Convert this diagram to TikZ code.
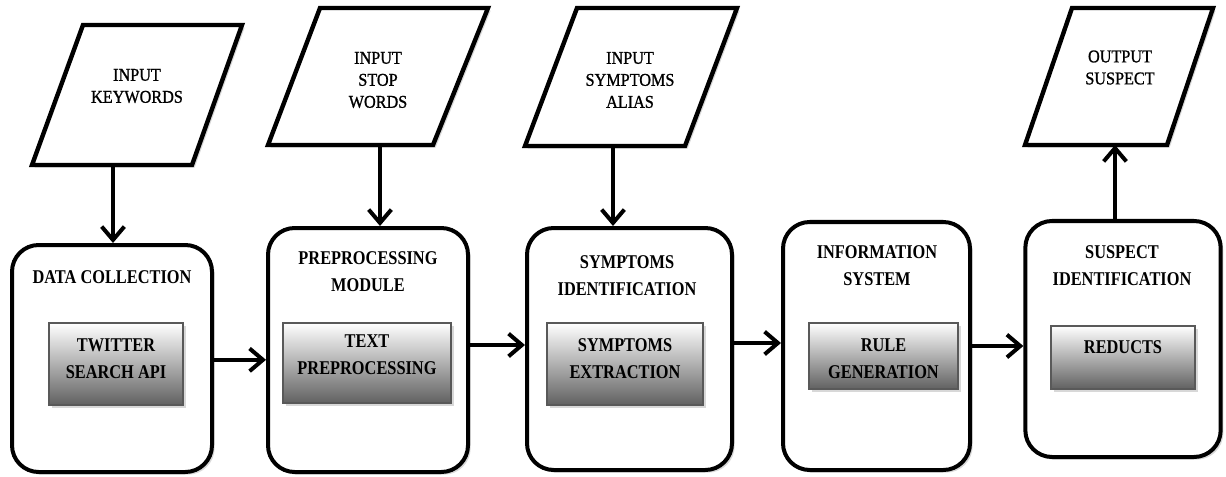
\documentclass[tikz,border=0pt]{standalone}
\usepackage{fontspec}
\setmainfont[FakeStretch=0.84]{Liberation Serif}
\newfontfamily\pfont[FakeStretch=0.9,FakeBold=1]{Liberation Serif}
\usetikzlibrary{arrows.meta,shadows,calc}
\begin{document}
\begin{tikzpicture}[x=0.75pt,y=-0.75pt,
  stage/.style={draw=black,line width=3pt,rounded corners=20pt,fill=white,inner sep=0pt,
    drop shadow={shadow xshift=2pt,shadow yshift=-2pt,fill=black!30}},
  innerbox/.style={draw=black!65,line width=0.8pt,top color=white,bottom color=black!62,inner sep=0pt,
    drop shadow={shadow xshift=2pt,shadow yshift=-2pt,fill=black!30}},
  para/.style={draw=black,line width=3.3pt,fill=white,line join=miter,
    drop shadow={shadow xshift=2pt,shadow yshift=-2pt,fill=black!30}},
  titletext/.style={font=\bfseries\fontsize{14.6pt}{20.25pt}\selectfont,align=center,inner sep=0pt},
  innertext/.style={font=\bfseries\fontsize{14.6pt}{20.25pt}\selectfont,align=center,inner sep=0pt},
  ptext/.style={font=\pfont\fontsize{13.5pt}{16.5pt}\selectfont,align=center,inner sep=0pt},
  arr/.style={line width=3pt,-{Straight Barb[length=10pt,width=17pt]}}
]
\useasboundingbox (0,0) rectangle (1226,477);

% parallelograms (inputs / output)
\draw[para] (83,25) -- (242,25) -- (192,165) -- (32,165) -- cycle;
\node[ptext] (p1) at (137,86) {INPUT\\KEYWORDS};
\coordinate (p1b) at (113,165);

\draw[para] (320,8) -- (488,8) -- (433,145) -- (268,145) -- cycle;
\node[ptext] (p2) at (378,80) {INPUT\\STOP\\WORDS};
\coordinate (p2b) at (380,145);

\draw[para] (577,8) -- (737,8) -- (685,146) -- (525,146) -- cycle;
\node[ptext] (p3) at (630,80) {INPUT\\SYMPTOMS\\ALIAS};
\coordinate (p3b) at (613,146);

\draw[para] (1072,8) -- (1213,8) -- (1167,145) -- (1025,145) -- cycle;
\node[ptext] (p4) at (1120,67.5) {OUTPUT\\SUSPECT};
\coordinate (p4b) at (1115,145);

% stage boxes
\node[stage,minimum width=150pt,minimum height=170.25pt] (b1) at (112,358.5) {};
\node[stage,minimum width=150pt,minimum height=183pt] (b2) at (368,350) {};
\node[stage,minimum width=153.75pt,minimum height=181.5pt] (b3) at (629.5,349) {};
\node[stage,minimum width=140.25pt,minimum height=186pt] (b4) at (876.5,346) {};
\node[stage,minimum width=146.5pt,minimum height=177pt] (b5) at (1123,339) {};

% titles
\node[titletext] (t1) at (112,277) {DATA COLLECTION};
\node[titletext] (t2) at (368,272) {PREPROCESSING\\MODULE};
\node[titletext] (t3) at (627,276) {SYMPTOMS\\IDENTIFICATION};
\node[titletext] (t4) at (877,266) {INFORMATION\\SYSTEM};
\node[titletext] (t5) at (1122,266) {SUSPECT\\IDENTIFICATION};

% inner boxes
\node[innerbox,minimum width=100.5pt,minimum height=61.5pt] (i1) at (116,364) {};
\node[innerbox,minimum width=126pt,minimum height=60pt] (i2) at (367,363) {};
\node[innerbox,minimum width=117pt,minimum height=61.5pt] (i3) at (625,364) {};
\node[innerbox,minimum width=111.75pt,minimum height=49.5pt] (i4) at (883.5,356) {};
\node[innerbox,minimum width=108pt,minimum height=47.25pt] (i5) at (1123,357.5) {};

\node[innertext] (it1) at (116,359) {TWITTER\\SEARCH API};
\node[innertext] (it2) at (367,354.5) {TEXT\\PREPROCESSING};
\node[innertext] (it3) at (625,358.5) {SYMPTOMS\\EXTRACTION};
\node[innertext] (it4) at (883.5,358.5) {RULE\\GENERATION};
\node[innertext] (it5) at (1123,347) {REDUCTS};

% vertical connectors
\draw[arr] (p1b) -- (p1b |- b1.north);
\draw[arr] (p2b) -- (p2b |- b2.north);
\draw[arr] (p3b) -- (p3b |- b3.north);
\draw[arr] (p4b |- b5.north) -- (p4b);

% horizontal connectors
\draw[arr] ([yshift=-1pt]b1.east) -- ([yshift=-1pt]b1.east -| b2.west);
\draw[arr] ([yshift=3.75pt]b2.east) -- ([yshift=3.75pt]b2.east -| b3.west);
\draw[arr] ([yshift=4.5pt]b3.east) -- ([yshift=4.5pt]b3.east -| b4.west);
\draw[arr] (b4.east) -- (b4.east -| b5.west);
\end{tikzpicture}
\end{document}
